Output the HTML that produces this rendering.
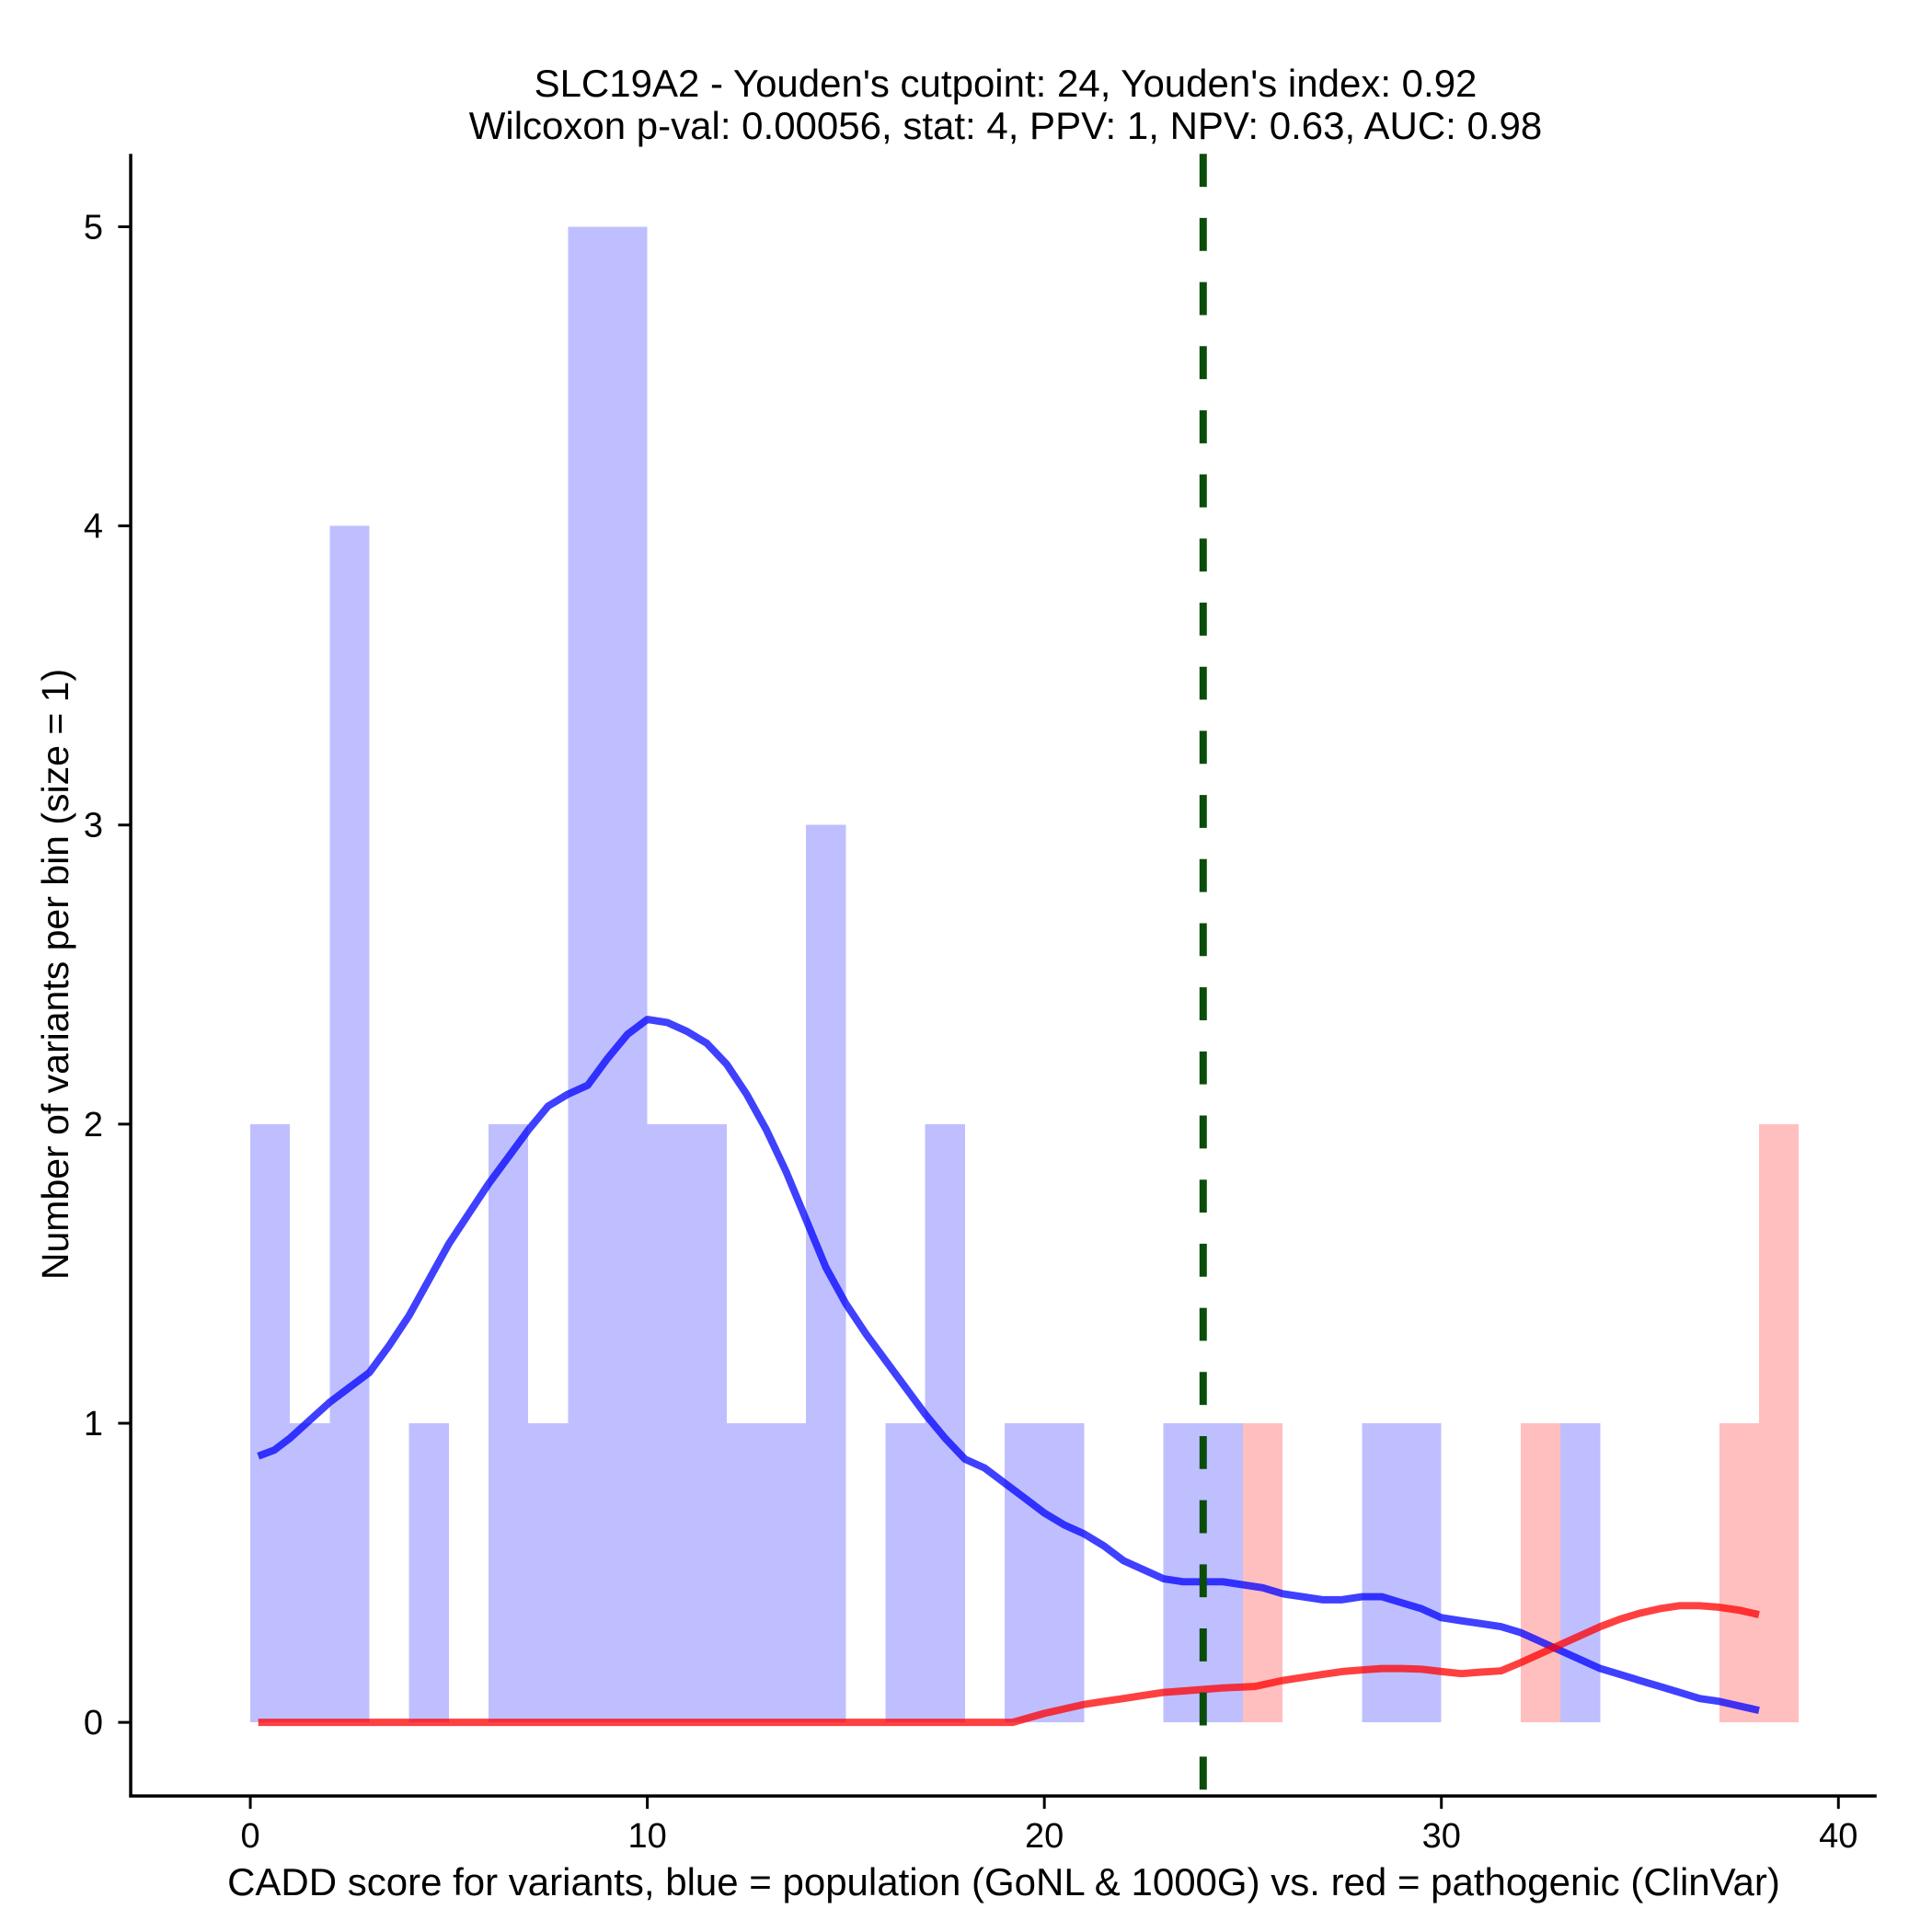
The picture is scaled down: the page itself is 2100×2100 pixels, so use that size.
<!DOCTYPE html>
<html><head><meta charset="utf-8"><style>
html,body{margin:0;padding:0;background:#fff;}
svg{display:block;font-family:"Liberation Sans",Arial,sans-serif;}
</style></head><body>
<svg id="chart" width="2100" height="2100" viewBox="0 0 2100 2100" xmlns="http://www.w3.org/2000/svg">
<rect width="2100" height="2100" fill="#fff"/>
<text x="1093" y="105" font-size="42" text-anchor="middle">SLC19A2 - Youden's cutpoint: 24, Youden's index: 0.92</text>
<text x="1093" y="151" font-size="42" text-anchor="middle">Wilcoxon p-val: 0.00056, stat: 4, PPV: 1, NPV: 0.63, AUC: 0.98</text>
<g transform="scale(0.9955)">
<g id="bars" shape-rendering="crispEdges"></g>
<g id="lines"></g>
<g id="axes"></g>
</g>
<g id="labels"></g>
<text x="1091" y="2060" font-size="42" text-anchor="middle">CADD score for variants, blue = population (GoNL &amp; 1000G) vs. red = pathogenic (ClinVar)</text>
<text transform="translate(74,1059) rotate(-90)" font-size="41" text-anchor="middle">Number of variants per bin (size = 1)</text>
</svg>
<script>
const blueCounts = [2,1,4,0,1,0,2,1,5,5,2,2,1,1,3,0,1,2,0,1,1,0,0,1,1,0,0,0,1,1,0,0,0,1,0,0,0,0,0];
const redCounts = [0,0,0,0,0,0,0,0,0,0,0,0,0,0,0,0,0,0,0,0,0,0,0,0,0,1,0,0,0,0,0,0,1,0,0,0,0,1,2];
const blueX = [0.2,0.6,1,1.5,2,2.5,3,3.5,4,4.5,5,5.5,6,6.5,7,7.5,8,8.5,9,9.5,10,10.5,11,11.5,12,12.5,13,13.5,14,14.5,15,15.5,16,16.5,17,17.5,18,18.5,19,19.5,20,20.5,21,21.5,22,22.5,23,23.5,24,24.5,25,25.5,26,26.5,27,27.5,28,28.5,29,29.5,30,30.5,31,31.5,32,32.5,33,33.5,34,34.5,35,35.5,36,36.5,37,37.5,38];
const blueY = [0.89,0.91,0.95,1.01,1.07,1.12,1.17,1.26,1.36,1.48,1.6,1.7,1.8,1.89,1.98,2.06,2.1,2.13,2.22,2.3,2.35,2.34,2.31,2.27,2.2,2.1,1.98,1.84,1.68,1.52,1.4,1.3,1.21,1.12,1.03,0.95,0.88,0.85,0.8,0.75,0.7,0.66,0.63,0.59,0.54,0.51,0.48,0.47,0.47,0.47,0.46,0.45,0.43,0.42,0.41,0.41,0.42,0.42,0.4,0.38,0.35,0.34,0.33,0.32,0.3,0.27,0.24,0.21,0.18,0.16,0.14,0.12,0.1,0.08,0.07,0.055,0.04];
const redX = [0.2,19.2,19.6,20,20.5,21,21.5,22,22.5,23,23.5,24,24.5,25.3,26,26.5,27,27.5,28,28.5,29,29.5,30,30.5,31,31.5,32,32.5,33,33.5,34,34.5,35,35.5,36,36.5,37,37.5,38];
const redY = [0,0,0.015,0.03,0.045,0.06,0.07,0.08,0.09,0.1,0.105,0.11,0.115,0.12,0.14,0.15,0.16,0.17,0.175,0.18,0.18,0.178,0.17,0.163,0.168,0.172,0.2,0.23,0.26,0.29,0.32,0.345,0.365,0.38,0.39,0.39,0.385,0.375,0.36];
const xTicks = [0,10,20,30,40];
const yTicks = [0,1,2,3,4,5];
const cutpoint = 24;

const NS = "http://www.w3.org/2000/svg";
const S = 0.9955;
const sx = v => 273.3 + v * 43.35;
const sy = v => 1880.6 - v * 326.6;
function mk(tag, attrs, parent){const e=document.createElementNS(NS,tag);for(const k in attrs)e.setAttribute(k,attrs[k]);parent.appendChild(e);return e;}
const bars=document.getElementById('bars'), lines=document.getElementById('lines'), axes=document.getElementById('axes'), labels=document.getElementById('labels');
function drawBars(counts, color, name){
  counts.forEach((c,i)=>{ if(!c) return;
    const r=mk('rect',{x:sx(i),y:sy(c),width:sx(i+1)-sx(i),height:sy(0)-sy(c),fill:color},bars);
    
    
  });
}
drawBars(blueCounts,'#bfbfff','blue-bar');
drawBars(redCounts,'#ffbfbf','red-bar');
function path(xs,ys){return xs.map((x,i)=>(i?'L':'M')+sx(x).toFixed(1)+','+sy(ys[i]).toFixed(1)).join(' ');}
const bl=mk('path',{d:path(blueX,blueY),fill:'none',stroke:'#0000ff','stroke-opacity':0.75,'stroke-width':8,'stroke-linejoin':'round'},lines);


const rl=mk('path',{d:path(redX,redY),fill:'none',stroke:'#ff0000','stroke-opacity':0.75,'stroke-width':8,'stroke-linejoin':'round'},lines);


const cl=mk('line',{x1:sx(cutpoint),x2:sx(cutpoint),y1:168,y2:1961,stroke:'#0a4d0a','stroke-width':8,'stroke-dasharray':'36 34'},lines);


const ya=mk('line',{x1:142.7,x2:142.7,y1:168,y2:1962,stroke:'#000','stroke-width':3.5},axes);


const xa=mk('line',{x1:141,x2:2049,y1:1961,y2:1961,stroke:'#000','stroke-width':3.5},axes);


xTicks.forEach(t=>{
  const l=mk('line',{x1:sx(t),x2:sx(t),y1:1961,y2:1975,stroke:'#000','stroke-width':3},axes);
  
  
  const tx=mk('text',{x:sx(t)*S,y:2008,'font-size':38,'text-anchor':'middle'},labels);
  tx.textContent=t;
  
  
});
yTicks.forEach(t=>{
  const l=mk('line',{x1:129,x2:142.7,y1:sy(t),y2:sy(t),stroke:'#000','stroke-width':3},axes);
  
  
  const tx=mk('text',{x:112,y:sy(t)*S+13,'font-size':38,'text-anchor':'end'},labels);
  tx.textContent=t;
  
  
});
</script>
</body></html>
